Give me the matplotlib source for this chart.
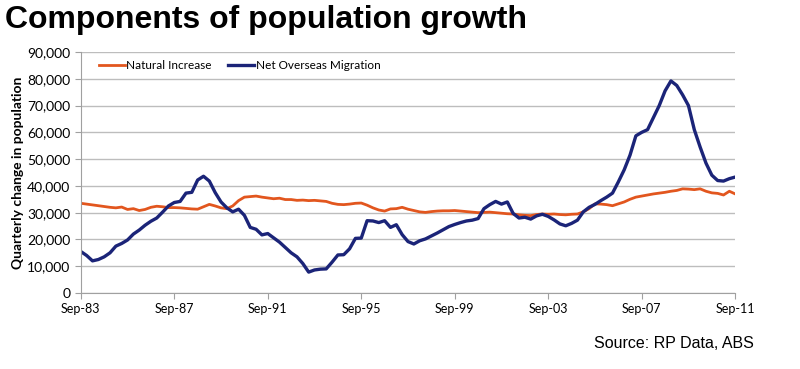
import numpy as np
import matplotlib
matplotlib.use('Agg')
import matplotlib.pyplot as plt

# 季度数据 Sep-83 .. Sep-11
tick_labels = ['Sep-83', 'Sep-87', 'Sep-91', 'Sep-95', 'Sep-99', 'Sep-03', 'Sep-07', 'Sep-11']

natural_increase = [
    33500, 33200, 32900, 32600, 32300, 32000, 31800, 32100, 31200, 31500,
    30800, 31200, 32000, 32400, 32200, 31900, 31900, 31800, 31600, 31400,
    31300, 32200, 33100, 32500, 31800, 31500, 32500, 34500, 35800, 36000,
    36200, 35800, 35500, 35200, 35400, 34900, 34900, 34600, 34700, 34500,
    34600, 34400, 34200, 33500, 33100, 33000, 33200, 33500, 33600, 32800,
    31800, 31000, 30600, 31400, 31500, 32000, 31300, 30800, 30300, 30100,
    30400, 30600, 30700, 30700, 30800, 30600, 30400, 30200, 30000, 30100,
    30200, 30000, 29800, 29600, 29500, 29200, 29000, 28900, 29300, 29500,
    29400, 29500, 29300, 29200, 29400, 29500, 30300, 31500, 33300, 33200,
    33000, 32600, 33300, 34000, 35000, 35800, 36200, 36600, 37000, 37300,
    37600, 38000, 38300, 38900, 38800, 38600, 38900, 38000, 37400, 37200,
    36600, 38000, 37000,
]

net_overseas_migration = [
    15500, 14000, 12000, 12500, 13500, 15000, 17500, 18500, 19800, 22000,
    23500, 25300, 26800, 28000, 30200, 32500, 33800, 34200, 37300, 37600,
    42200, 43600, 41800, 37500, 34000, 31800, 30300, 31300, 29000, 24500,
    23800, 21700, 22200, 20600, 19000, 17000, 15000, 13500, 11000, 7800,
    8600, 8900, 9000, 11500, 14200, 14300, 16500, 20400, 20500, 27000,
    26900, 26300, 27000, 24500, 25500, 21800, 19200, 18300, 19500, 20200,
    21300, 22400, 23600, 24800, 25600, 26300, 26900, 27200, 27800, 31500,
    33000, 34200, 33200, 34000, 29700, 28000, 28300, 27600, 28800, 29400,
    28600, 27300, 25800, 25100, 26000, 27200, 30300, 32000, 33100, 34500,
    35800, 37300, 41500, 46000, 51500, 58700, 60000, 61000, 65500, 70000,
    75500, 79200, 77500, 74000, 70000, 61000, 54500, 48500, 44000, 42000,
    41800, 42700, 43300,
]

plt.rcParams['font.family'] = ['Lato', 'DejaVu Sans']

fig = plt.figure(figsize=(8, 3.69), dpi=100)
ax = fig.add_axes([0.101, 0.206, 0.818, 0.653])

q = np.arange(len(natural_increase))
ax.plot(q, natural_increase, color='#E2561E', lw=2.0, label='Natural Increase', solid_joinstyle='round')
ax.plot(q, net_overseas_migration, color='#1B2478', lw=2.4, label='Net Overseas Migration',
        solid_joinstyle='round')

ax.set_xlim(0, len(q) - 1)
ax.set_ylim(0, 90000)
ax.set_yticks(np.arange(0, 90001, 10000))
ax.set_yticklabels(['{:,}'.format(v) for v in range(0, 90001, 10000)], fontsize=10)
ax.set_xticks(np.arange(0, len(q), 16))
ax.set_xticklabels(tick_labels, fontsize=9)
ax.grid(axis='y', color='#BDBDBD', lw=1.0)
ax.set_axisbelow(True)
for s in ['top', 'right']:
    ax.spines[s].set_visible(False)
for s in ['left', 'bottom']:
    ax.spines[s].set_color('#A0A0A0')
ax.tick_params(axis='both', color='#A0A0A0', length=4)
ax.set_ylabel('Quarterly change in population', fontsize=10, fontweight='bold', labelpad=2)

ax.legend(loc='upper left', bbox_to_anchor=(0.012, 1.01), ncol=2, frameon=False, fontsize=8.5,
          handlelength=2.2, handletextpad=0.1, columnspacing=1.4)

fig.text(0.006, 0.945, 'Components of population growth', fontsize=23, fontweight='bold',
         family='Liberation Sans', va='center')
fig.text(0.942, 0.07, 'Source: RP Data, ABS', fontsize=11.5, family='Liberation Sans', ha='right', va='center')

fig.savefig('out.png', dpi=100)
